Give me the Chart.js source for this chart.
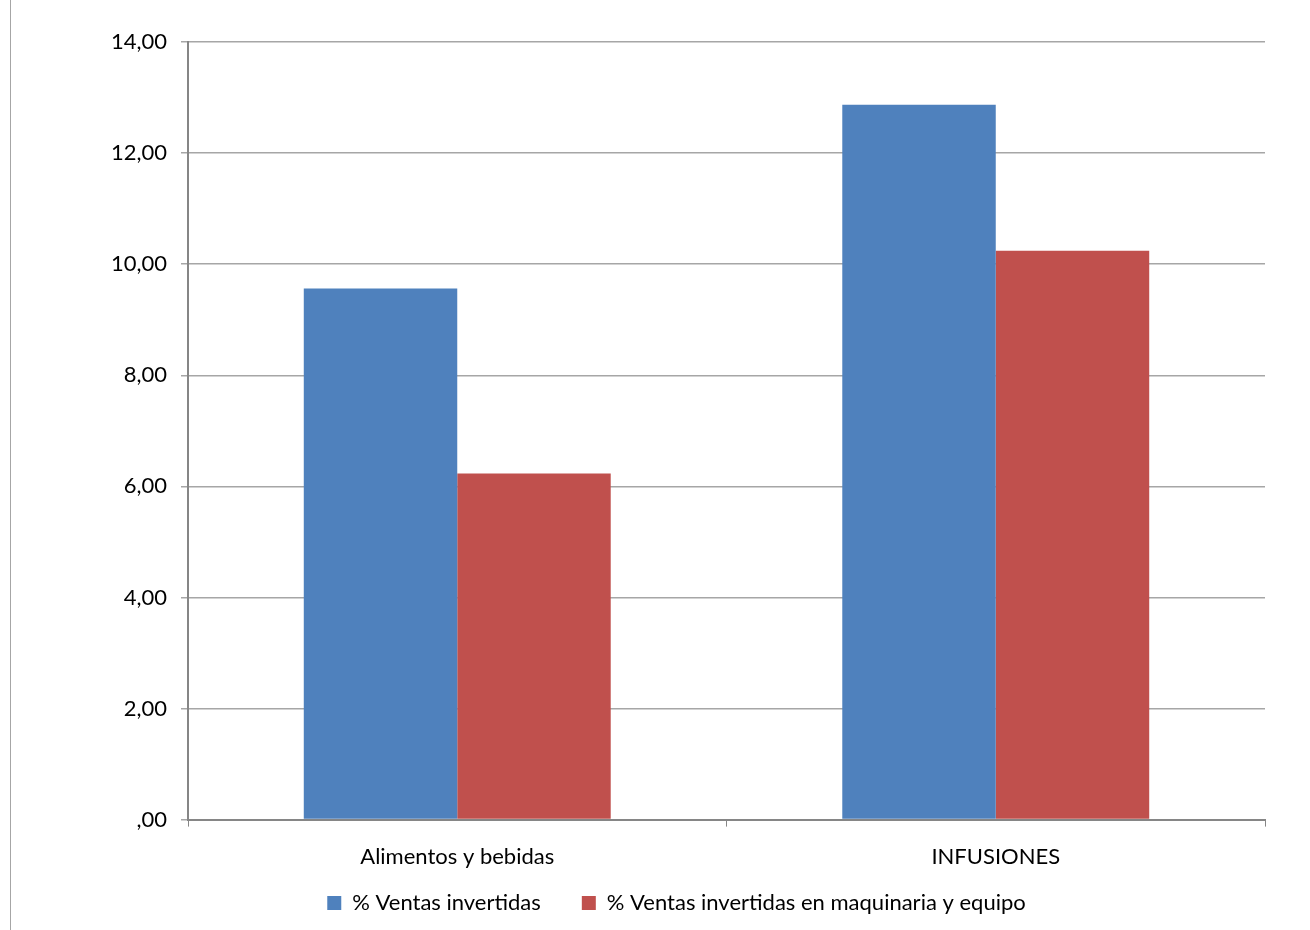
<!DOCTYPE html>
<html>
<head>
<meta charset="utf-8">
<script src="https://cdn.jsdelivr.net/npm/chart.js@4"></script>
<style>
  body { margin:0; background:#fff; }
  #wrap { position:relative; width:1310px; height:930px; }
  #borde { position:absolute; left:10px; top:0; width:1px; height:930px; background:#a6a6a6; }
</style>
</head>
<body>
<div id="wrap">
  <div id="borde"></div>
  <canvas id="grafico" width="1310" height="930"></canvas>
</div>
<script>
// datos
const categorias = ["Alimentos y bebidas", "INFUSIONES"];
const ventasInvertidas = [9.56, 12.87];
const ventasMaquinaria = [6.23, 10.24];
const series = ["% Ventas invertidas", "% Ventas invertidas en maquinaria y equipo"];

const fuente = "Lato, 'Open Sans', sans-serif";
const ESPACIO = 41; // separacion horizontal entre items de la leyenda

function formato(v){
  let s = v.toFixed(2).replace(".", ",");
  if (s.startsWith("0,")) s = s.slice(1);
  return s;
}

// la leyenda usa el mismo padding arriba y entre items; aqui se separan
const separarLeyenda = {
  id: "separarLeyenda",
  afterLayout(chart){
    const leg = chart.legend;
    if (!leg || leg._separada) return;
    leg._separada = true;
    const dibujar = leg.draw;
    leg.draw = function(area){
      const labels = this.options.labels;
      const p = labels.padding;
      const d = ESPACIO - p;
      this.top -= d;
      labels.padding = ESPACIO;
      dibujar.call(this, area);
      labels.padding = p;
      this.top += d;
    };
  }
};

const ctx = document.getElementById("grafico");

new Chart(ctx, {
  type: "bar",
  data: {
    labels: categorias,
    datasets: [
      { label: series[0], data: ventasInvertidas, backgroundColor: "#4f81bd", borderWidth: 0 },
      { label: series[1], data: ventasMaquinaria, backgroundColor: "#c0504d", borderWidth: 0 }
    ]
  },
  plugins: [separarLeyenda],
  options: {
    responsive: false,
    animation: false,
    categoryPercentage: 0.57,
    barPercentage: 1,
    layout: { padding: { top: 42, right: 45, left: 16, bottom: 6 } },
    plugins: {
      tooltip: { enabled: false },
      legend: {
        position: "bottom",
        labels: {
          boxWidth: 14, boxHeight: 14,
          color: "#000",
          font: { family: fuente, size: 22 },
          padding: 5
        }
      }
    },
    scales: {
      x: {
        grid: { offset: true, drawOnChartArea: false, drawTicks: true, tickLength: 7, color: "#868686" },
        border: { color: "#868686", width: 2 },
        ticks: { color: "#000", font: { family: fuente, size: 22 }, padding: 17 }
      },
      y: {
        min: 0, max: 14,
        afterFit: s => { s.width = 172; },
        grid: { color: "#a6a6a6", lineWidth: 1.5, tickLength: 7 },
        border: { color: "#868686", width: 2 },
        ticks: {
          stepSize: 2, color: "#000", padding: 14,
          font: { family: fuente, size: 22 },
          callback: v => formato(v)
        }
      }
    }
  }
});
</script>
</body>
</html>
